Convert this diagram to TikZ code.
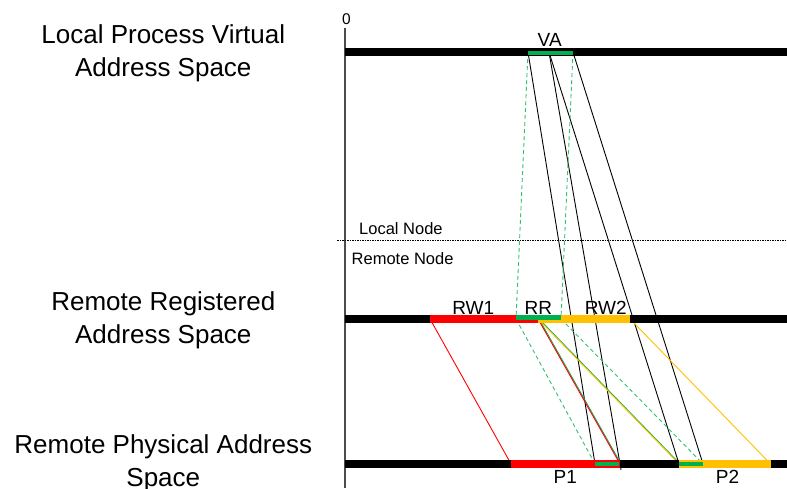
\documentclass[tikz,border=0pt]{standalone}
\usepackage{fontspec}
\setmainfont{Liberation Sans}
\definecolor{gr}{HTML}{00B050}
\definecolor{rd}{HTML}{FF0000}
\definecolor{og}{HTML}{FFC000}
\tikzset{
  bigtxt/.style={font=\fontsize{26}{33}\selectfont, align=center, anchor=base, inner sep=0pt},
  segtxt/.style={font=\fontsize{19}{22}\selectfont, anchor=base, inner sep=0pt},
  nodetxt/.style={font=\fontsize{16.5}{20}\selectfont, anchor=base west, inner sep=0pt},
  bar/.style={line width=7.7pt},
  thinbar/.style={line width=4.4pt},
  map/.style={line width=0.9pt},
  gmap/.style={line width=0.9pt, gr!80!white, dash pattern=on 4pt off 3pt},
}
\begin{document}
\begin{tikzpicture}[x=1pt,y=-1pt]
\useasboundingbox (0,0) rectangle (787,488);
% axis
\coordinate (axtop) at (345,28);
\coordinate (axbot) at (345,488);
\draw[line width=1.2pt, black!70] (axtop) -- (axbot);
\node[font=\fontsize{15.5}{18}\selectfont, inner sep=0pt, anchor=base] (zero) at (346.5,24) {0};
% separator
\coordinate (sepl) at (337,240);
\coordinate (sepr) at (787,240);
\draw[line width=0.8pt, dash pattern=on 1.5pt off 1pt] (sepl) -- (sepr);
\node[nodetxt] (lnode) at (359,234) {Local Node};
\node[nodetxt] (rnode) at (351.5,264) {Remote Node};
% left labels (anchor = baseline of last line)
\node[bigtxt] (lab1) at (163.3,76.3) {Local Process Virtual\\Address Space};
\node[bigtxt] (lab2) at (163.3,343.5) {Remote Registered\\Address Space};
\node[bigtxt] (lab3) at (163.3,486) {Remote Physical Address\\Space};
% key points
\coordinate (va1) at (528,52.2);
\coordinate (va2) at (549,52.2);
\coordinate (va3) at (573,52.2);
\coordinate (rw1l) at (430,318.9);
\coordinate (rrl) at (516,318.9);
\coordinate (rw1r) at (538,318.9);
\coordinate (rrr) at (561,318.9);
\coordinate (rw2r) at (630,318.9);
\coordinate (p1l) at (511,463.9);
\coordinate (p1g) at (595,463.9);
\coordinate (p1r) at (620,463.9);
\coordinate (p2l) at (679,463.9);
\coordinate (p2g) at (703,463.9);
\coordinate (p2r) at (770.5,463.9);
% mapping lines
\draw[map] (va1) -- (p1g);
\draw[map, shorten >=-6pt] (va2) -- (p1r);
\draw[map] (va2) -- (p2l);
\draw[map] (va3) -- (p2g);
\draw[gmap] (va1) -- (rrl);
\draw[gmap] (va3) -- (rrr);
\draw[gmap] (rrl) -- (p1g);
\draw[gmap] (rrr) -- (p2g);
\draw[map, rd] (rw1l) -- (p1l);
\draw[map, gr] ([xshift=1pt]rw1r) -- ([xshift=1pt]p1r);
\draw[map, rd] (rw1r) -- (p1r);
\draw[map, gr] ([xshift=1pt]rw1r) -- ([xshift=1pt]p2l);
\draw[map, og] (rw1r) -- (p2l);
\draw[map, og] (rw2r) -- (p2r);
% bars
\coordinate (b1l) at (345,52.2);  \coordinate (b1r) at (787,52.2);
\coordinate (b2l) at (345,318.9); \coordinate (b2r) at (787,318.9);
\coordinate (b3l) at (345,463.9); \coordinate (b3r) at (787,463.9);
\draw[bar] (b1l) -- (b1r);
\draw[bar] (b2l) -- (b2r);
\draw[bar] (b3l) -- (b3r);
% top segment
\draw[thinbar, gr] ([yshift=-1pt]va1) -- ([yshift=-1pt]va3);
% middle segments
\draw[bar, rd] (rw1l) -- (rw1r);
\draw[bar, og] (rw1r) -- (rw2r);
\draw[thinbar, gr] ([yshift=1.3pt]rrl) -- ([yshift=1.3pt]rrr);
% bottom segments
\draw[bar, rd] (p1l) -- (p1r);
\draw[bar, og] (p2l) -- (p2r);
\draw[line width=4pt, gr] (p1g) -- ([xshift=-1pt]p1r);
\draw[line width=4pt, gr] (p2l) -- (p2g);
% segment labels
\node[segtxt] (tva) at (549.7,46) {VA};
\node[segtxt] (trw1) at (473.3,314) {RW1};
\node[segtxt] (trr) at (538.3,314) {RR};
\node[segtxt] (trw2) at (605.8,314) {RW2};
\node[segtxt] (tp1) at (565.3,483.3) {P1};
\node[segtxt] (tp2) at (727.5,483.3) {P2};
\end{tikzpicture}
\end{document}
